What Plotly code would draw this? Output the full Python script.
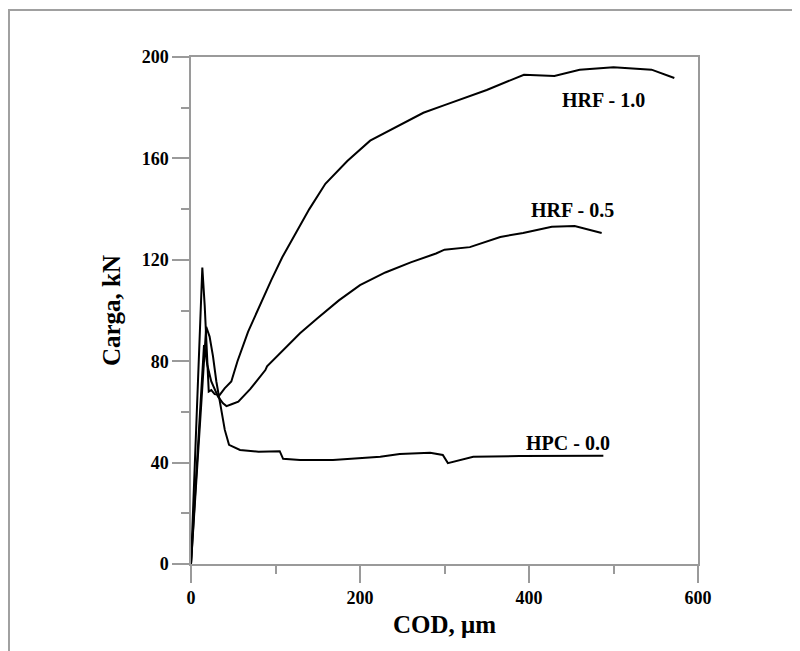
import plotly.graph_objects as go

# COD (micrometres) and load (kN)
hrf10_x = [0, 13.4, 16.2, 18.1, 20.1, 21, 24, 28, 34, 39.8, 47.7, 55, 67.5, 80, 95, 108,
           125, 140, 159, 185, 212, 247, 275, 300, 350, 394, 430, 460, 500, 545, 572]
hrf10_y = [0, 116.9, 102, 89, 69.3, 68, 68.6, 67, 66.7, 69.3, 72, 80, 91.6, 101, 112, 121,
           131, 140, 150, 159, 167, 173, 178, 181, 187, 193, 192.5, 195, 196, 195, 191.7]

hrf05_x = [0, 15.4, 17, 19.3, 24, 32, 37.9, 42, 48, 56, 70, 88, 90, 109, 129, 150, 175,
           200, 230, 260, 290, 300, 330, 366, 393, 427, 454, 486]
hrf05_y = [0, 86.4, 83.7, 78.5, 72, 66, 63.4, 62.3, 63, 64, 69, 76.5, 78, 84.4, 91, 97, 104,
           110, 115, 119, 122.5, 124, 125, 129, 130.6, 133, 133.3, 130.6]

hpc_x = [0, 18, 22, 26, 30, 34.3, 40, 45, 58, 80, 105, 109, 129, 168, 224, 247, 283, 298,
         304, 334, 389, 488]
hpc_y = [0, 93.6, 89.7, 82, 72, 63.4, 52.9, 47, 45, 44.3, 44.5, 41.5, 41, 41, 42.3, 43.4,
         43.9, 43, 39.8, 42.3, 42.6, 42.7]

labels = ["HRF - 1.0", "HRF - 0.5", "HPC - 0.0"]
label_x = [488, 451, 446]
label_y = [183, 139.6, 47.7]

FONT = "Liberation Serif"
GRAY = "#9a9a9a"

fig = go.Figure()
for xs, ys, name in [(hrf10_x, hrf10_y, labels[0]), (hrf05_x, hrf05_y, labels[1]),
                     (hpc_x, hpc_y, labels[2])]:
    fig.add_trace(go.Scatter(x=xs, y=ys, mode="lines", name=name,
                             line=dict(color="black", width=2), showlegend=False))

for t, ax, ay in zip(labels, label_x, label_y):
    fig.add_annotation(x=ax, y=ay, text=t, showarrow=False, xref="x", yref="y",
                       font=dict(family=FONT, size=20, color="black", weight="bold"))

# outer grey border (left and top edges visible)
fig.add_shape(type="rect", xref="paper", yref="paper", x0=-0.359, x1=1.4, y0=-0.4, y1=1.0927,
              line=dict(color="#a0a0a0", width=2), layer="below")

axis_common = dict(showline=True, linecolor=GRAY, linewidth=1.5, mirror=True,
                   ticks="outside", tickcolor=GRAY, tickwidth=1.5, ticklen=17,
                   showgrid=False, zeroline=False,
                   tickfont=dict(family=FONT, size=18, color="black", weight="bold"))

fig.update_xaxes(range=[0, 600], tickvals=[0, 200, 400, 600],
                 minor=dict(tickvals=[100, 300, 500], ticks="outside", ticklen=8,
                            tickcolor=GRAY, tickwidth=1.5),
                 title=dict(text="COD, μm", standoff=8,
                            font=dict(family=FONT, size=25, color="black", weight="bold")),
                 **axis_common)
fig.update_yaxes(range=[0, 200], tickvals=[0, 40, 80, 120, 160, 200],
                 minor=dict(tickvals=[20, 60, 100, 140, 180], ticks="outside", ticklen=8,
                            tickcolor=GRAY, tickwidth=1.5),
                 title=dict(text="Carga, kN", standoff=14,
                            font=dict(family=FONT, size=25, color="black", weight="bold")),
                 **axis_common)

fig.update_layout(width=800, height=651, plot_bgcolor="white", paper_bgcolor="white",
                  margin=dict(l=183, r=110, t=49, b=95, autoexpand=False))

fig.write_html("out.html")
